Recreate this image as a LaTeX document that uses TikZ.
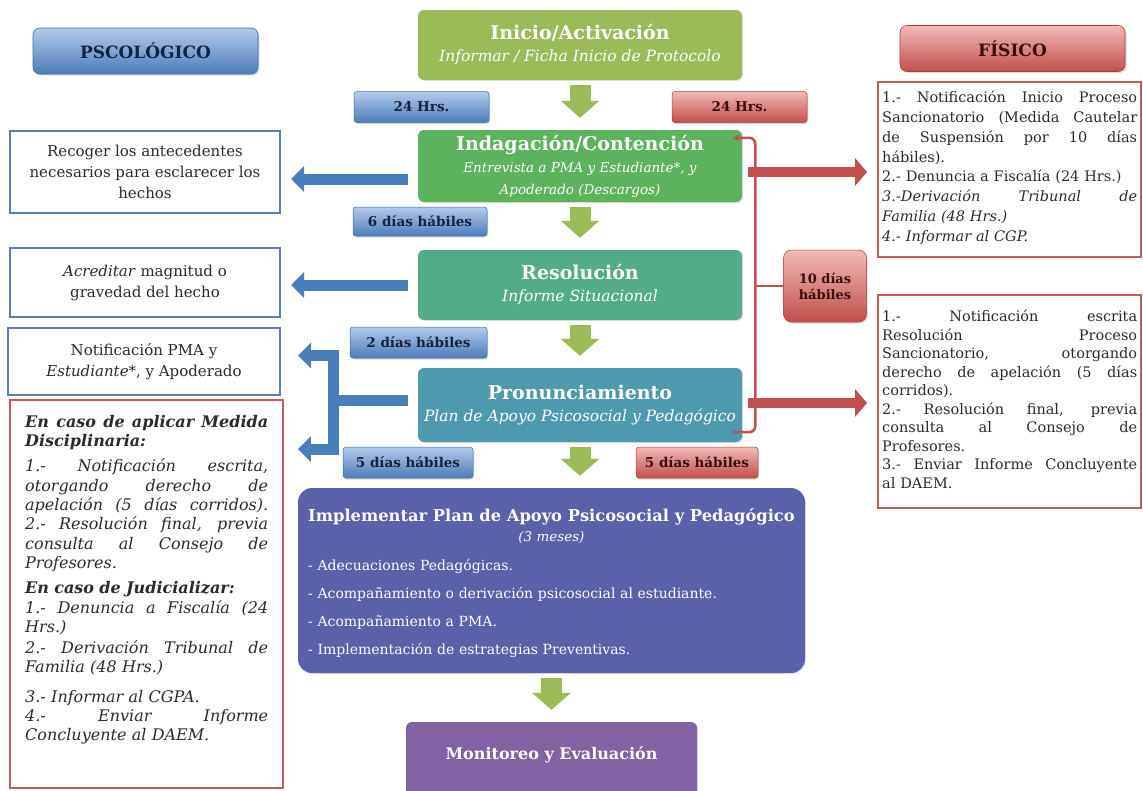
\documentclass[tikz,border=0pt]{standalone}
\usepackage{fontspec}
\setmainfont{DejaVu Serif}
\usetikzlibrary{arrows.meta,shadows,calc}

\definecolor{hbT}{HTML}{B3CBEA}
\definecolor{hbB}{HTML}{4C7CBA}
\definecolor{hbD}{HTML}{3F6BA6}
\definecolor{hrT}{HTML}{F2B9B7}
\definecolor{hrB}{HTML}{C24F4C}
\definecolor{hrD}{HTML}{A8403E}
\definecolor{cIni}{HTML}{9BBB59}
\definecolor{cInd}{HTML}{5BB35C}
\definecolor{cRes}{HTML}{52AC89}
\definecolor{cPro}{HTML}{4D9AAF}
\definecolor{cImp}{HTML}{5A60A9}
\definecolor{cMon}{HTML}{8163A3}
\definecolor{grn}{HTML}{9BBB59}
\definecolor{bArr}{HTML}{4A7EBB}
\definecolor{rArr}{HTML}{C0504D}
\definecolor{bBord}{HTML}{5B7FB0}
\definecolor{rBord}{HTML}{C55A57}
\definecolor{txt}{HTML}{2B2B2B}
\definecolor{navy}{HTML}{16233A}
\definecolor{maroon}{HTML}{3A0E0E}

% one justified line spread over the full text width
\newcommand\jl[1]{\leavevmode\hbox to \hsize{\spaceskip=0.33em plus 1fil\xspaceskip=0.33em plus 1fil\relax #1}}
\newcommand\ttlf{\bfseries\fontsize{19}{22}\selectfont}
\newcommand\subf{\itshape\fontsize{15.5}{22}\selectfont}

\begin{document}
\begin{tikzpicture}[x=1pt,y=-1pt,
  hdrB/.style={rounded corners=7pt, draw=hbD, line width=0.6pt, top color=hbT, bottom color=hbB,
    drop shadow={shadow xshift=1.5pt,shadow yshift=-1.5pt,opacity=0.3}, text=navy,
    font=\bfseries\fontsize{17}{20}\selectfont, minimum width=225pt, minimum height=46pt, inner sep=0pt},
  hdrR/.style={hdrB, draw=hrD, top color=hrT, bottom color=hrB, text=maroon},
  lblB/.style={rounded corners=3pt, draw=hbD, line width=0.5pt, top color=hbT, bottom color=hbB,
    drop shadow={shadow xshift=1pt,shadow yshift=-1.5pt,opacity=0.3}, text=navy,
    font=\bfseries\fontsize{13.5}{15}\selectfont, inner sep=0pt, minimum height=31pt},
  lblR/.style={lblB, draw=hrD, top color=hrT, bottom color=hrB, text=maroon},
  stage/.style={rounded corners=6pt, fill=#1, text=white, align=center, minimum width=324pt,
    inner sep=0pt, font=\fontsize{14}{22}\selectfont,
    drop shadow={shadow xshift=1pt,shadow yshift=-1pt,opacity=0.2}},
  bbox/.style={draw=bBord, line width=2pt, fill=white, text=txt, align=center, inner sep=0pt,
    font=\fontsize{15}{21}\selectfont},
  rbox/.style={draw=rBord, line width=1.8pt, fill=white, inner sep=0pt},
  btext/.style={text=txt, inner sep=0pt, align=left, anchor=north west},
  garrow/.style={draw=grn, line width=21pt, -{Triangle[width=38pt,length=17pt]}, shorten <=5pt, shorten >=12pt},
  barrow/.style={draw=bArr, line width=11pt, -{Triangle[width=25pt,length=13pt]}},
  bline/.style={draw=bArr, line width=11pt},
  rarrow/.style={draw=rArr, line width=10pt, -{Triangle[width=27pt,length=12pt]}},
  rline/.style={draw=rArr, line width=2.5pt}
]
\useasboundingbox (0,0) rectangle (1143,790);
\fill[white] (0,0) rectangle (1143,790);

% column headers
\node[hdrB] (psi) at (145.5,51) {PSCOLÓGICO};
\node[hdrR] (fis) at (1012.5,48.5) {FÍSICO};

% main stages
\node[stage=cIni, minimum height=70pt] (ini) at (580,45)
  {{\ttlf Inicio/Activación}\\{\subf Informar / Ficha Inicio de Protocolo}};
\node[stage=cInd, minimum height=72pt] (ind) at (580,166)
  {{\ttlf Indagación/Contención}\\{\itshape\fontsize{13.5}{22}\selectfont Entrevista a PMA y Estudiante*, y}\\
   {\itshape\fontsize{13.5}{22}\selectfont Apoderado (Descargos)}};
\node[stage=cRes, minimum height=70pt] (res) at (580,285)
  {{\ttlf Resolución}\\{\subf Informe Situacional}};
\node[stage=cPro, minimum height=74pt] (pro) at (580,405)
  {{\ttlf Pronunciamiento}\\{\subf Plan de Apoyo Psicosocial y Pedagógico}};
\node[stage=cImp, minimum width=507pt, minimum height=185pt, rounded corners=14pt] (imp) at (551.5,580.5) {};
\node[text=white, align=center, inner sep=0pt] (impT) at (551.5,526)
  {{\bfseries\fontsize{16.3}{19}\selectfont Implementar Plan de Apoyo Psicosocial y Pedagógico}\\[5pt]
   {\itshape\fontsize{13.5}{21}\selectfont (3 meses)}};
\node[text=white, inner sep=0pt, align=left, text width=480pt, anchor=base west,
      font=\fontsize{14}{28.3}\selectfont] (impL) at (308,570)
  {- Adecuaciones Pedagógicas.\\
   - Acompañamiento o derivación psicosocial al estudiante.\\
   - Acompañamiento a PMA.\\
   - Implementación de estrategias Preventivas.};
\node[stage=cMon, minimum width=291pt, minimum height=80pt] (mon) at (551.5,762) {};
\node[text=white, inner sep=0pt, font=\bfseries\fontsize{16}{18}\selectfont] (monT) at (551.5,755)
  {Monitoreo y Evaluación};

% time labels
\node[lblB, minimum width=135pt] (h24b) at (421.5,107) {24 Hrs.};
\node[lblR, minimum width=135pt] (h24r) at (739.5,107) {24 Hrs.};
\node[lblB, minimum width=134pt, minimum height=29pt] (d6) at (420,221.5) {6 días hábiles};
\node[lblB, minimum width=137pt] (d2) at (418.5,342.5) {2 días hábiles};
\node[lblB, minimum width=130pt] (d5b) at (408,462.5) {5 días hábiles};
\node[lblR, minimum width=122pt] (d5r) at (697,462.5) {5 días hábiles};
\node[lblR, minimum width=83pt, minimum height=72pt, rounded corners=8pt, align=center,
      font=\bfseries\fontsize{13}{16}\selectfont] (dias) at (825,286) {10 días\\hábiles};

% psychological side
\node[bbox, minimum width=270pt, minimum height=82pt] (rec) at (145,172)
  {Recoger los antecedentes\\necesarios para esclarecer los\\hechos};
\node[bbox, minimum width=270pt, minimum height=69pt] (acr) at (145,282.5)
  {\textit{Acreditar} magnitud o\\gravedad del hecho};
\node[bbox, minimum width=272pt, minimum height=67pt] (ntf) at (144,361.5)
  {Notificación PMA y\\\textit{Estudiante}*, y Apoderado};
\node[rbox, minimum width=273pt, minimum height=388pt] (leg) at (146.5,594) {};
\node[btext, text width=243pt, font=\itshape\fontsize{16}{19.3}\selectfont] (legT) at (25,415)
  {{\bfseries\jl{En caso de aplicar Medida}}\\
   {\bfseries Disciplinaria:}\\[6pt]
   \jl{1.- Notificación escrita,}\\
   \jl{otorgando derecho de}\\
   \jl{apelación (5 días corridos).}\\
   \jl{2.- Resolución final, previa}\\
   \jl{consulta al Consejo de}\\
   Profesores.\\[6pt]
   {\bfseries En caso de Judicializar:}\\
   \jl{1.- Denuncia a Fiscalía (24}\\
   Hrs.)\\[2pt]
   \jl{2.- Derivación Tribunal de}\\
   Familia (48 Hrs.)\\[10pt]
   3.- Informar al CGPA.\\
   \jl{4.- Enviar Informe}\\
   Concluyente al DAEM.};

% physical side
\node[rbox, minimum width=263pt, minimum height=175pt] (r1) at (1009.5,169.5) {};
\node[btext, text width=255pt, font=\fontsize{14.5}{19.8}\selectfont] (r1T) at (882,91)
  {\jl{1.- Notificación Inicio Proceso}\\
   \jl{Sancionatorio (Medida Cautelar}\\
   \jl{de Suspensión por 10 días}\\
   hábiles).\\
   2.- Denuncia a Fiscalía (24 Hrs.)\\
   {\itshape\jl{3.-Derivación Tribunal de}}\\
   {\itshape Familia (48 Hrs.)}\\
   {\itshape 4.- Informar al CGP.}};
\node[rbox, minimum width=263pt, minimum height=213pt] (r2) at (1009.5,401.5) {};
\node[btext, text width=255pt, font=\fontsize{14.5}{18.5}\selectfont] (r2T) at (882,310)
  {\jl{1.- Notificación escrita}\\
   \jl{Resolución Proceso}\\
   \jl{Sancionatorio, otorgando}\\
   \jl{derecho de apelación (5 días}\\
   corridos).\\
   \jl{2.- Resolución final, previa}\\
   \jl{consulta al Consejo de}\\
   Profesores.\\
   \jl{3.- Enviar Informe Concluyente}\\
   al DAEM.};

% main flow
\draw[garrow] (ini) -- (ind);
\draw[garrow] (ind) -- (res);
\draw[garrow] (res) -- (pro);
\draw[garrow] (pro.south) -- (pro.south |- imp.north);
\draw[garrow] (imp) -- (mon);

% psychological branches
\coordinate (a1) at ([yshift=-13pt]ind.west);
\draw[barrow, shorten <=10pt, shorten >=10pt] (a1) -- (a1 -| rec.east);
\draw[barrow, shorten <=10pt, shorten >=10pt] (res.west) -- (res.west -| acr.east);
\coordinate (elb) at (333,400);
\draw[bline, shorten <=10pt] ([yshift=5pt]pro.west) -- (elb);
\draw[barrow, shorten >=17pt] (elb) |- ([yshift=6pt]ntf.east);
\draw[barrow, shorten >=14pt] (elb) |- ([yshift=-50pt]leg.north east);

% ten-day bracket on the physical side
\coordinate (bx) at ($(dias.west)+(-28,0)$);
\draw[rline, rounded corners=6pt, {Triangle[length=5pt,width=6pt]}-]
  ([xshift=-9pt,yshift=-8pt]ind.north east) -| (bx) |- ([xshift=-9pt,yshift=10pt]pro.south east);
\draw[rline] (bx) -- (dias.west);

% physical branches
\coordinate (a2) at ([yshift=-6pt]ind.east);
\draw[rarrow, shorten <=6pt, shorten >=10pt] (a2) -- (a2 -| r1.west);
\coordinate (a3) at ([yshift=2pt]pro.east);
\draw[rarrow, shorten <=6pt, shorten >=10pt] (a3) -- (a3 -| r2.west);
\end{tikzpicture}
\end{document}
